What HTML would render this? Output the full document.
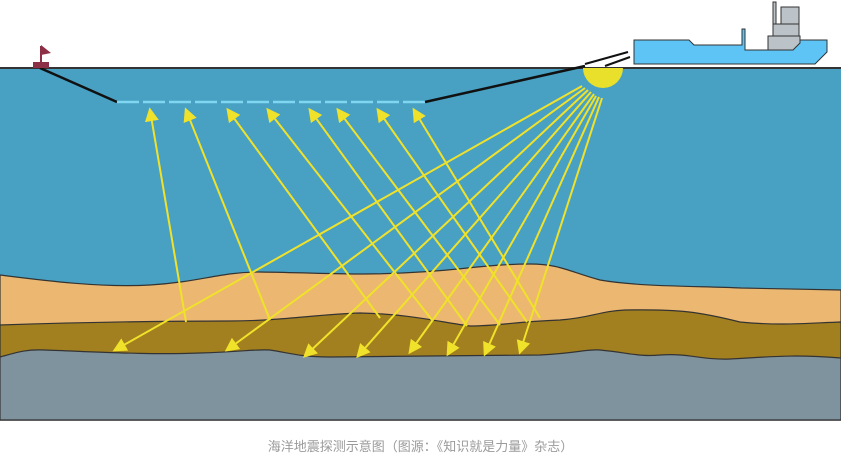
<!DOCTYPE html>
<html><head><meta charset="utf-8"><style>
html,body{margin:0;padding:0;background:#fff;width:841px;height:474px;overflow:hidden}
.cap{position:absolute;left:0;width:841px;top:436px;text-align:center;font-family:"Liberation Sans","Noto Sans CJK SC",sans-serif;font-size:13px;color:#9a9a9a}
</style></head><body>
<svg width="841" height="474" style="position:absolute;left:0;top:0">
<defs><marker id="a" markerWidth="8" markerHeight="8" refX="6" refY="4" orient="auto" markerUnits="userSpaceOnUse" viewBox="0 0 8 8"><path d="M0,0 L8,4 L0,8 Z" fill="#f0e22a"/></marker>
<marker id="b" viewBox="0 0 10 10" refX="8" refY="5" markerWidth="14" markerHeight="14" orient="auto" markerUnits="userSpaceOnUse"><path d="M0,0 L10,5 L0,10 Z" fill="#f0e22a"/></marker></defs>
<rect x="0" y="68" width="841" height="352" fill="#48a1c3"/>
<path d="M0,275 C40,280 100,288 150,285 C200,282 220,272 260,272 C330,273 360,276 420,272 C460,270 490,264 530,264 C560,264 570,272 600,280 C640,287 700,286 741,288 L841,290 L841,420 L0,420Z" fill="#ecb770" stroke="#333" stroke-width="1.2"/>
<path d="M0,325 C60,323 150,321 230,321 C280,321 320,314 360,313 C410,314 440,322 470,326 C500,326 510,322 560,320 C590,318 600,311 625,310 C680,309 700,312 740,322 C780,326 810,323 841,322 L841,420 L0,420Z" fill="#a27f1f" stroke="#333" stroke-width="1.2"/>
<path d="M0,357 C15,353 25,349 45,350 C100,352 150,355 200,353 C240,352 255,349 270,350 C290,353 300,357 330,357 C400,356 480,356 540,355 C580,353 585,349 600,350 C630,353 640,357 660,355 C690,353 700,360 730,359 C770,357 790,354 841,358 L841,420 L0,420Z" fill="#7f939f" stroke="#333" stroke-width="1.2"/>
<line x1="0" y1="68" x2="841" y2="68" stroke="#333" stroke-width="2"/>
<g stroke="#f0e22a" stroke-width="2" fill="none">
<line x1="582" y1="86" x2="115" y2="350" marker-end="url(#b)"/>
<line x1="585" y1="88" x2="227" y2="350" marker-end="url(#b)"/>
<line x1="588" y1="90" x2="305" y2="356" marker-end="url(#b)"/>
<line x1="591" y1="92" x2="358" y2="356" marker-end="url(#b)"/>
<line x1="594" y1="94" x2="410" y2="352" marker-end="url(#b)"/>
<line x1="596" y1="96" x2="448" y2="354" marker-end="url(#b)"/>
<line x1="599" y1="97" x2="485" y2="354" marker-end="url(#b)"/>
<line x1="602" y1="98" x2="520" y2="352" marker-end="url(#b)"/>
<line x1="186" y1="322" x2="150" y2="110" marker-end="url(#b)"/>
<line x1="270" y1="320" x2="186" y2="110" marker-end="url(#b)"/>
<line x1="380" y1="318" x2="228" y2="110" marker-end="url(#b)"/>
<line x1="432" y1="320" x2="268" y2="110" marker-end="url(#b)"/>
<line x1="467" y1="326" x2="310" y2="110" marker-end="url(#b)"/>
<line x1="500" y1="325" x2="338" y2="110" marker-end="url(#b)"/>
<line x1="527" y1="322" x2="378" y2="110" marker-end="url(#b)"/>
<line x1="540" y1="318" x2="414" y2="110" marker-end="url(#b)"/>
</g>
<path d="M583,68 A20,20 0 0 0 623,68 Z" fill="#e8e02a"/>
<line x1="40" y1="68" x2="117" y2="102" stroke="#111" stroke-width="2.5"/>
<line x1="117" y1="102" x2="425" y2="102" stroke="#7fd6f0" stroke-width="2.5" stroke-dasharray="22,4"/>
<line x1="425" y1="102" x2="585" y2="66" stroke="#111" stroke-width="2.5"/>
<line x1="605" y1="66" x2="630" y2="57" stroke="#111" stroke-width="2"/>
<line x1="585" y1="64" x2="628" y2="52" stroke="#111" stroke-width="2"/>
<rect x="33" y="62" width="16" height="6" fill="#8e3045"/>
<line x1="41" y1="62" x2="41" y2="46" stroke="#8e3045" stroke-width="2"/>
<path d="M41,45 L51,53 L41,55Z" fill="#8e3045"/>
<path d="M634,40 L689,40 L694,45 L742,45 L742,29 L745,29 L745,50 L768,50 L768,36 L800,36 L800,40 L827,40 L827,52 L815,64 L634,64Z" fill="#5ec4f6" stroke="#333" stroke-width="1"/>
<path d="M768,50 L768,36 L800,36 L800,43 L793,50Z" fill="#bcc3c8" stroke="#333" stroke-width="1"/>
<rect x="773" y="24" width="26" height="12" fill="#bcc3c8" stroke="#333" stroke-width="1"/>
<rect x="781" y="7" width="18" height="17" fill="#bcc3c8" stroke="#333" stroke-width="1"/>
<rect x="773" y="2" width="3" height="22" fill="#bcc3c8" stroke="#333" stroke-width="1"/>
</svg>
<div class="cap">海洋地震探测示意图（图源：《知识就是力量》杂志）</div>
</body></html>
